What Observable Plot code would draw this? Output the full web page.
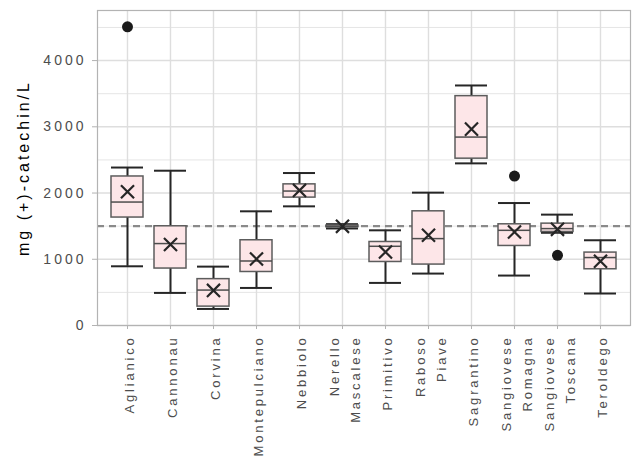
<!DOCTYPE html>
<html>
<head>
<meta charset="utf-8">
<script src="https://cdn.jsdelivr.net/npm/d3@7"></script>
<script src="https://cdn.jsdelivr.net/npm/@observablehq/plot@0.6"></script>
<style>
  html, body { margin: 0; padding: 0; background: #fff; }
  #chart svg { display: block; }
  g[aria-label="y-axis tick label"] text { letter-spacing: 3px; }
  g[aria-label="x-axis tick label"] text { letter-spacing: 2.8px; }
  g[aria-label="text"] text { letter-spacing: 3px; }
</style>
</head>
<body>
<div id="chart"></div>
<script>
const categories = ["Aglianico", "Cannonau", "Corvina", "Montepulciano", "Nebbiolo", "Nerello Mascalese",
  "Primitivo", "Raboso Piave", "Sagrantino", "Sangiovese Romagna", "Sangiovese Toscana", "Teroldego"];
const whiskerLow  = [894, 492, 250, 567, 1799, 1465, 643, 784, 2448, 754, 1400, 483];
const q1          = [1630, 860, 285, 808, 1931, 1485, 959, 920, 2519, 1201, 1412, 849];
const median      = [1864, 1237, 535, 974, 2030, 1495, 1196, 1312, 2845, 1437, 1463, 1026];
const q3          = [2250, 1498, 700, 1287, 2131, 1510, 1261, 1724, 3463, 1528, 1538, 1101];
const whiskerHigh = [2385, 2337, 889, 1724, 2302, 1530, 1437, 2006, 3624, 1849, 1674, 1287];
const means       = [2020, 1222, 530, 1005, 2040, 1497, 1110, 1362, 2965, 1412, 1452, 970];
const outlierCats = ["Aglianico", "Sangiovese Romagna", "Sangiovese Toscana"];
const outlierVals = [4510, 2256, 1060];
const referenceValue = 1500;
const yTicks = [0, 1000, 2000, 3000, 4000];
const yMinorTicks = [500, 1500, 2500, 3500, 4500];
const yLabel = "mg (+)-catechin/L";

const boxes = categories.map((c, i) => ({
  cat: c, lo: whiskerLow[i], q1: q1[i], med: median[i], q3: q3[i], hi: whiskerHigh[i], mean: means[i]
}));
const outliers = outlierCats.map((c, i) => ({cat: c, v: outlierVals[i]}));

const chart = Plot.plot({
  width: 633,
  height: 467,
  marginLeft: 97,
  marginRight: 3,
  marginTop: 10,
  marginBottom: 142,
  style: {fontFamily: "'Liberation Sans', Arial, sans-serif", background: "#fff"},
  x: {type: "band", domain: categories, paddingInner: 0.25, paddingOuter: 0.225, label: null},
  y: {domain: [0, 4756], label: null},
  marks: [
    Plot.gridY(yMinorTicks, {stroke: "#dedede", strokeOpacity: 1, strokeWidth: 0.8}),
    Plot.gridY(yTicks, {stroke: "#dedede", strokeOpacity: 1, strokeWidth: 1.4}),
    Plot.gridX(categories, {stroke: "#dedede", strokeOpacity: 1, strokeWidth: 1.4}),
    Plot.ruleY([referenceValue], {stroke: "#8a8a8a", strokeWidth: 2.2, strokeDasharray: "7,5"}),
    Plot.ruleX(boxes, {x: "cat", y1: "lo", y2: "hi", stroke: "#262626", strokeWidth: 2}),
    Plot.tickY(boxes, {x: "cat", y: "lo", stroke: "#262626", strokeWidth: 2}),
    Plot.tickY(boxes, {x: "cat", y: "hi", stroke: "#262626", strokeWidth: 2}),
    Plot.barY(boxes, {x: "cat", y1: "q1", y2: "q3", fill: "#fde6e8", stroke: "#5c5c5c", strokeWidth: 1.5}),
    Plot.tickY(boxes, {x: "cat", y: "med", stroke: "#4d4d4d", strokeWidth: 1.5}),
    Plot.dot(boxes, {x: "cat", y: "mean", symbol: "times", r: 6, stroke: "#262626", strokeWidth: 2.2}),
    Plot.dot(outliers, {x: "cat", y: "v", r: 5.5, fill: "#1a1a1a", stroke: "none"}),
    Plot.frame({stroke: "#b3b3b3", strokeWidth: 1.2}),
    Plot.axisY({ticks: yTicks, tickFormat: d => String(d), tickSize: 5, tickPadding: 6, fontSize: 14,
      fill: "#4d4d4d", stroke: "#b3b3b3", label: null}),
    Plot.axisX({tickRotate: -90, tickSize: 4, tickPadding: 6, fontSize: 13, lineHeight: 1.6,
      fill: "#4d4d4d", stroke: "#b3b3b3", label: null, tickFormat: d => d.replace(" ", "\n")}),
    Plot.text([yLabel], {frameAnchor: "left", textAnchor: "middle", rotate: -90, dx: -74, fontSize: 16, fill: "#000"})
  ]
});
document.getElementById("chart").append(chart);
</script>
</body>
</html>
